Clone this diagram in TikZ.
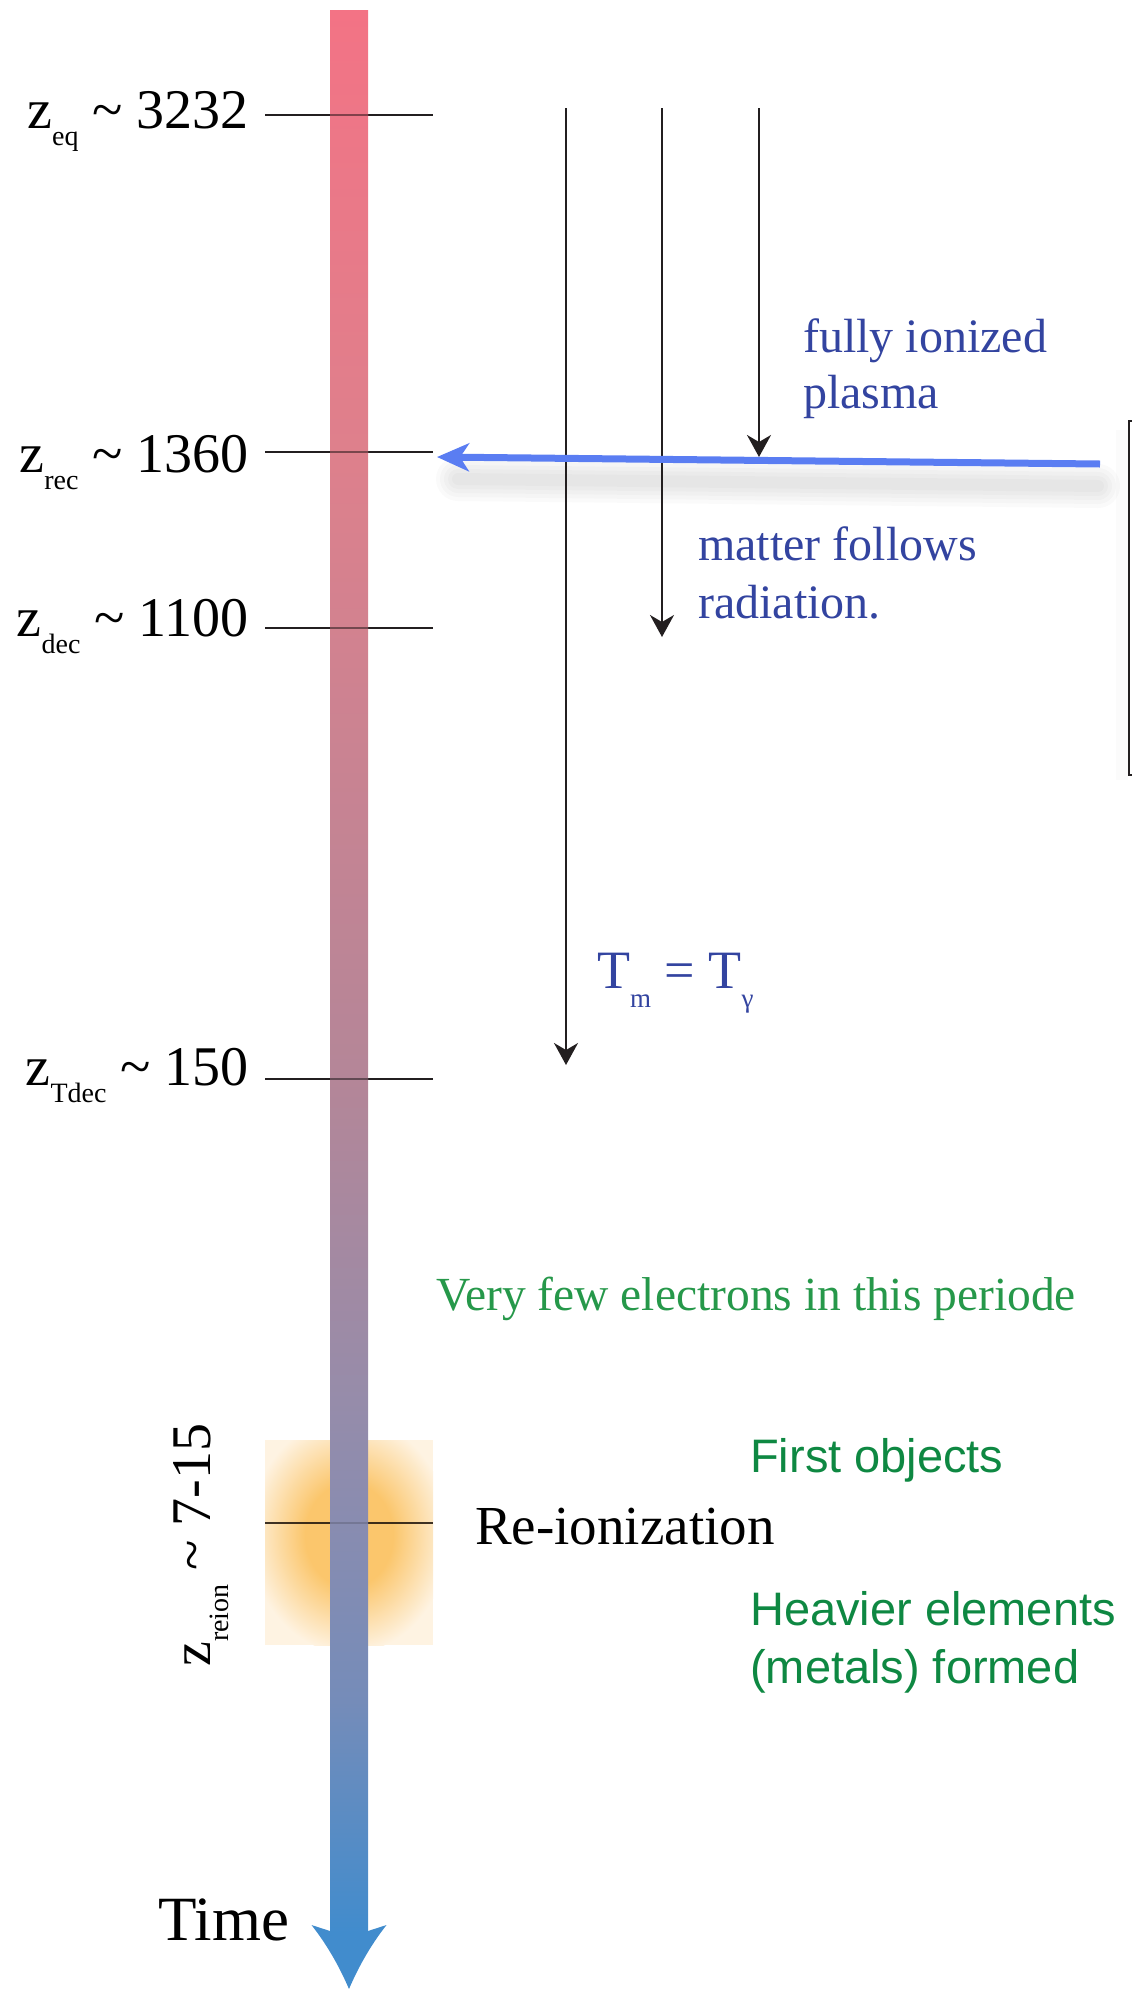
\documentclass[tikz,border=0pt]{standalone}
\usepackage{fontspec}
\setmainfont{Liberation Serif}
\newfontfamily\sansfam{Liberation Sans}
\usetikzlibrary{arrows.meta}
\definecolor{tb0}{RGB}{243,115,133}
\definecolor{tb1}{RGB}{222,128,140}
\definecolor{tb2}{RGB}{180,134,152}
\definecolor{tb3}{RGB}{150,140,170}
\definecolor{tb4}{RGB}{117,140,185}
\definecolor{tb5}{RGB}{65,140,205}
\definecolor{glowc}{RGB}{251,198,108}
\definecolor{glowpale}{RGB}{254,243,226}
\definecolor{bluet}{RGB}{51,68,160}
\definecolor{arrowc}{RGB}{35,31,32}
\definecolor{greenserif}{RGB}{38,152,74}
\definecolor{greensans}{RGB}{14,136,66}
\definecolor{bluearrow}{RGB}{90,125,242}
\pgfdeclareverticalshading{timebar}{100bp}{color(0bp)=(tb5); color(25bp)=(tb5); color(31.03bp)=(tb4); color(38.84bp)=(tb3); color(47.16bp)=(tb2); color(63.55bp)=(tb1); color(75bp)=(tb0); color(100bp)=(tb0)}
\pgfdeclareradialshading{glowshade}{\pgfpoint{0bp}{0bp}}{color(0bp)=(glowc); color(11bp)=(glowc); color(25bp)=(glowpale); color(50bp)=(glowpale)}
\newcommand{\zsub}[1]{\raisebox{-17pt}{\fontsize{28}{30}\selectfont #1}}
\newcommand{\tsub}[1]{\raisebox{-19pt}{\fontsize{27}{29}\selectfont #1}}
\begin{document}
\begin{tikzpicture}[x=1pt,y=-1pt,
  zlab/.style={anchor=base east, inner sep=0pt, font=\fontsize{56}{60}\selectfont, text=black},
  bluetxt/.style={anchor=base west, inner sep=0pt, font=\fontsize{48}{52}\selectfont, text=bluet},
  sanstxt/.style={anchor=base west, inner sep=0pt, font=\sansfam\fontsize{47}{50}\selectfont, text=greensans},
  tickline/.style={line width=2pt, draw=arrowc},
  tickover/.style={line width=2pt, draw=black, opacity=0.45},
  shadowline/.style={black, opacity=0.018, line cap=round},
  vline/.style={line width=2pt, draw=arrowc, -{Stealth[length=22pt,width=24pt,inset=7pt]}},
  bluearr/.style={line width=7pt, draw=bluearrow, -{Stealth[length=32pt,width=28pt,inset=9pt]}}]
\useasboundingbox (0,0) rectangle (1132,1989);
\clip (0,0) rectangle (1132,1989);

% re-ionization glow
\fill[glowpale] (265,1440) rectangle (433,1645);
\begin{scope}
  \clip (265,1440) rectangle (433,1645);
  \shade[shading=glowshade] (349,1535) ellipse [x radius=100, y radius=118];
\end{scope}

% tick lines (under the bar)
\draw[tickline] (265,115) -- (433,115);
\draw[tickline] (265,452) -- (433,452);
\draw[tickline] (265,628) -- (433,628);
\draw[tickline] (265,1079) -- (433,1079);
\draw[line width=1.6pt, draw=black!85!brown, opacity=0.85] (265,1523) -- (433,1523);

% time bar
\shade[shading=timebar] (330,10) rectangle (368,1933);
\fill[tb5] (330,1931) -- (311.5,1925) .. controls (328,1946) and (340,1968) .. (349,1989)
  .. controls (358,1968) and (370,1946) .. (386.5,1925) -- (368,1931) -- cycle;

% tick marks seen through the bar
\draw[tickover] (330,115) -- (368,115);
\draw[tickover] (330,452) -- (368,452);
\draw[tickover] (330,628) -- (368,628);
\draw[tickover] (330,1079) -- (368,1079);
\draw[line width=1.6pt, draw=black, opacity=0.15] (330,1523) -- (368,1523);

% labels on the left
\node[zlab] (leq) at (249,128) {z\zsub{eq} \textasciitilde{} 3232};
\node[zlab] (lrec) at (249,472) {z\zsub{rec} \textasciitilde{} 1360};
\node[zlab] (ldec) at (249,636) {z\zsub{dec} \textasciitilde{} 1100};
\node[zlab] (ltdec) at (249,1085) {z\zsub{Tdec} \textasciitilde{} 150};
\node[zlab, anchor=base west, rotate=90] (lreion) at (210,1667) {z\raisebox{-18pt}{\fontsize{28}{30}\selectfont reion} \textasciitilde{} 7-15};
\node[anchor=base west, inner sep=0pt, font=\fontsize{63}{66}\selectfont] (time) at (158,1940) {Time};
\node[anchor=base west, inner sep=0pt, font=\fontsize{55}{58}\selectfont] (reion) at (475,1544) {Re-ionization};

% box at right edge
\draw[line width=12pt, black, opacity=0.015] (1122,430) -- (1122,780);
\draw[line width=2.5pt, draw=arrowc] (1129,421) rectangle (1170,775);

% coordinates for connectors
\coordinate (a1s) at (566,108);
\coordinate (a1e) at (566,1065);
\coordinate (a2s) at (662,108);
\coordinate (a2e) at (662,637);
\coordinate (a3s) at (759,108);
\coordinate (a3e) at (759,457);
\coordinate (bs) at (1100,464);
\coordinate (be) at (437,457);

% soft shadow of blue arrow
\foreach \w in {44,36,28,20,12} {
  \draw[shadowline, line width=\w pt] (458,479) -- (1098,486);
}

% vertical arrows
\draw[vline] (a1s) -- (a1e);
\draw[vline] (a2s) -- (a2e);
\draw[vline] (a3s) -- (a3e);

% blue arrow
\draw[bluearr] (bs) -- (be);

% blue texts
\node[bluetxt] (fi1) at (803,352) {fully ionized};
\node[bluetxt] (fi2) at (803,408) {plasma};
\node[bluetxt] (mf1) at (698,560) {matter follows};
\node[bluetxt] (mf2) at (698,618) {radiation.};
\node[bluetxt, font=\fontsize{54}{58}\selectfont] (tm) at (597,988) {T\tsub{m} = T\tsub{γ}};

% green texts
\node[anchor=base west, inner sep=0pt, font=\fontsize{47.5}{50}\selectfont, text=greenserif] (few) at (436,1310) {Very few electrons in this periode};
\node[sanstxt] (fo) at (750,1472) {First objects};
\node[sanstxt] (he1) at (750,1625) {Heavier elements};
\node[sanstxt] (he2) at (750,1683) {(metals) formed};
\end{tikzpicture}
\end{document}
